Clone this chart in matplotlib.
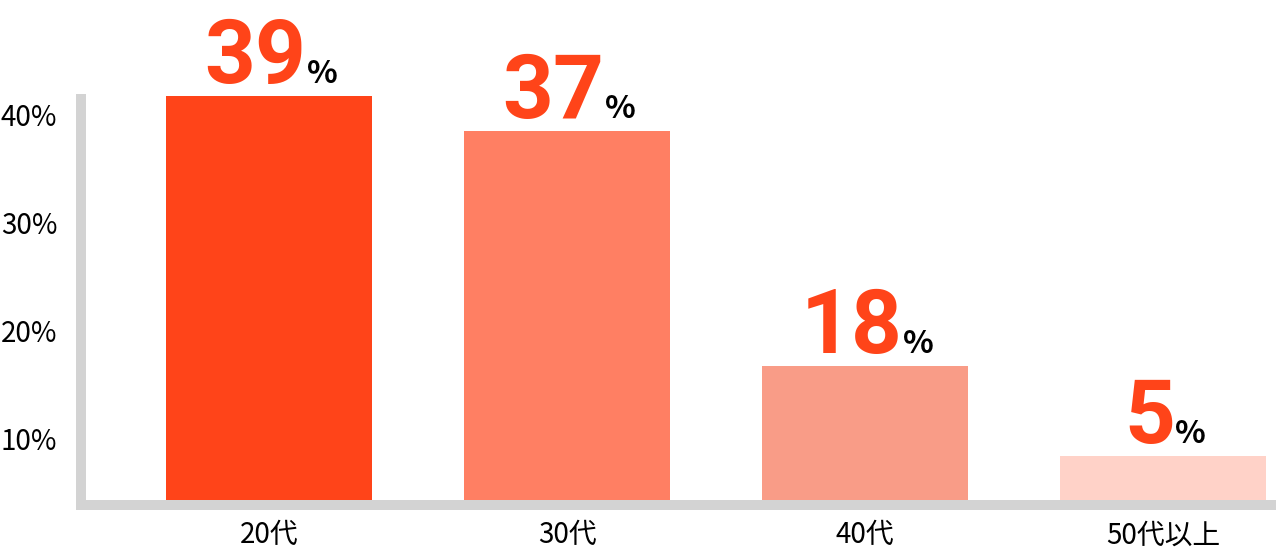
import matplotlib
matplotlib.use("Agg")
import matplotlib.pyplot as plt

plt.rcParams['font.family'] = ['Noto Sans CJK JP', 'DejaVu Sans']

# データ
categories = ["20代", "30代", "40代", "50代以上"]
bar_heights = [41.7, 38.4, 16.7, 8.3]     # 棒の高さ（目盛り上の値）
labels = [39, 37, 18, 5]                  # 表示される数値
tick_values = [10, 20, 30, 40]
tick_labels = ["10%", "20%", "30%", "40%"]

colores = ["#FF4419", "#FF7F63", "#F99C87", "#FFD2C8"]
color_num = "#FF4419"
gris = "#D3D3D3"

W, H = 1276, 552
fig = plt.figure(figsize=(W / 100, H / 100), dpi=100)
# ejes: borde izquierdo en x=81px, borde inferior en y=505px
ax = fig.add_axes([81 / W, (H - 505) / H, (W - 81) / W, 505 / H])

x = list(range(len(categories)))
ax.bar(x, bar_heights, width=0.69, color=colores, zorder=1)

ax.set_xlim(-0.631, 3.379)
ax.set_ylim(3.8, 50.56)

for s in ["top", "right"]:
    ax.spines[s].set_visible(False)
for s in ["left", "bottom"]:
    ax.spines[s].set_color(gris)
    ax.spines[s].set_linewidth(7.2)
    ax.spines[s].set_capstyle("butt")
ax.spines["left"].set_bounds(3.3, 41.85)
ax.spines["bottom"].set_bounds(-0.648, 3.379)

ax.set_yticks(tick_values)
ax.set_yticklabels(tick_labels, fontsize=20)
ax.set_xticks(x)
ax.set_xticklabels(categories, fontsize=20)
ax.tick_params(axis="y", length=0, pad=17)
ax.tick_params(axis="x", length=0, pad=11)

# etiquetas grandes: número + "%" centrados sobre cada barra
fig.canvas.draw()
renderer = fig.canvas.get_renderer()
for i, (h, lab) in enumerate(zip(bar_heights, labels)):
    t1 = ax.text(i, h + 1.2, str(lab), color=color_num, fontsize=64,
                 fontweight="bold", family=["Roboto", "DejaVu Sans"],
                 ha="left", va="baseline")
    t2 = ax.text(i, h + 1.2, "%", color="black", fontsize=23,
                 fontweight="bold", ha="left", va="baseline")
    w1 = t1.get_window_extent(renderer).width
    w2 = t2.get_window_extent(renderer).width
    gap = 0
    total = w1 + gap + w2
    cx = ax.transData.transform((i, 0))[0]
    x1 = cx - total / 2 + 2
    inv = ax.transData.inverted()
    t1.set_x(inv.transform((x1, 0))[0])
    t2.set_x(inv.transform((x1 + w1 + gap, 0))[0])

fig.savefig("out.png", dpi=100)
